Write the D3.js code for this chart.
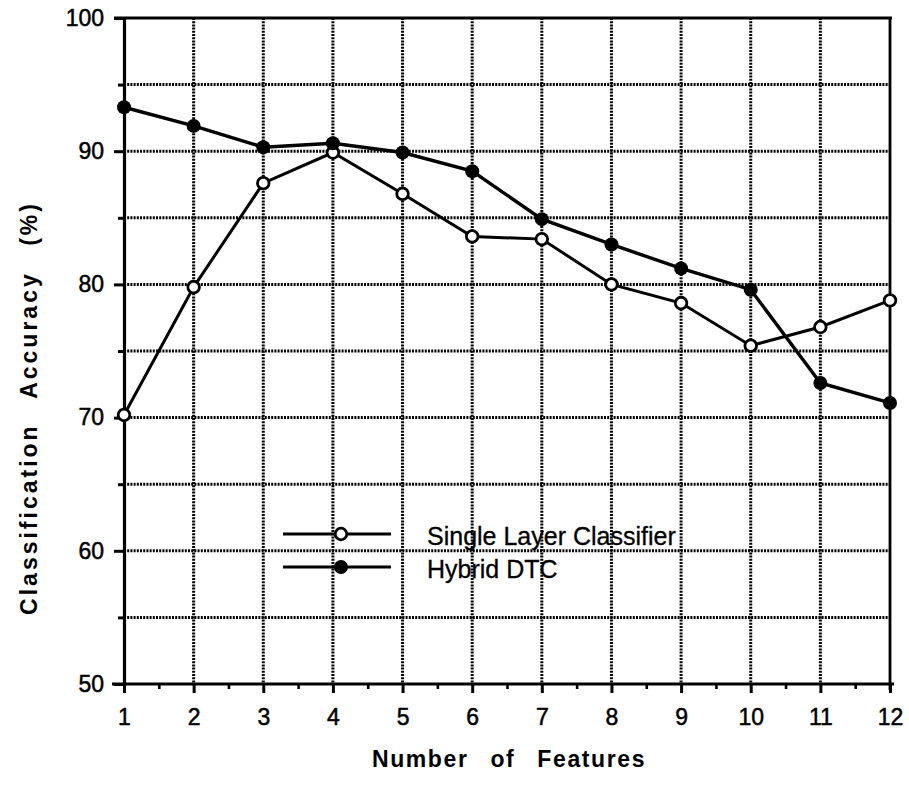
<!DOCTYPE html>
<html>
<head>
<meta charset="utf-8">
<script src="https://cdn.jsdelivr.net/npm/d3@7"></script>
<style>
  html, body { margin: 0; padding: 0; background: #fff; }
  svg { display: block; }
  text { font-family: "Liberation Sans", Arial, Helvetica, sans-serif; fill: #000; }
</style>
</head>
<body>
<svg id="chart" width="909" height="787"></svg>
<script>
// Number of features used by each classifier
const features = [1, 2, 3, 4, 5, 6, 7, 8, 9, 10, 11, 12];
// Classification accuracy (%) per feature count
const singleLayer = [70.2, 79.8, 87.6, 89.9, 86.8, 83.6, 83.4, 80.0, 78.6, 75.4, 76.8, 78.8];
const hybridDTC   = [93.3, 91.9, 90.3, 90.6, 89.9, 88.5, 84.9, 83.0, 81.2, 79.6, 72.6, 71.1];
// Axis tick values
const yTicks = [50, 60, 70, 80, 90, 100];
const yGrid = [55, 60, 65, 70, 75, 80, 85, 90, 95];
const xMinor = [1.5, 2.5, 3.5, 4.5, 5.5, 6.5, 7.5, 8.5, 9.5, 10.5, 11.5];
const seriesNames = ["Single Layer Classifier", "Hybrid DTC"];

const svg = d3.select("#chart");
const plotL = 124, plotR = 890, plotT = 18, plotB = 684;

const x = d3.scaleLinear().domain([1, 12]).range([plotL, plotR]);
const y = d3.scaleLinear().domain([50, 100]).range([plotB, plotT]);

// grid
const grid = svg.append("g").attr("stroke", "#000").attr("stroke-width", 3)
  .attr("stroke-dasharray", "2,1.2").attr("fill", "none");
grid.selectAll("line.v").data(features.slice(1, -1)).join("line").attr("class", "v")
  .attr("x1", d => x(d)).attr("x2", d => x(d)).attr("y1", plotT).attr("y2", plotB);
grid.selectAll("line.h").data(yGrid).join("line").attr("class", "h")
  .attr("x1", plotL).attr("x2", plotR).attr("y1", d => y(d)).attr("y2", d => y(d));

// frame: top and right borders
svg.append("line").attr("x1", plotL - 10).attr("x2", plotR + 2).attr("y1", y(100)).attr("y2", y(100))
  .attr("stroke", "#000").attr("stroke-width", 3);
svg.append("line").attr("x1", plotR).attr("x2", plotR).attr("y1", plotT).attr("y2", plotB + 6)
  .attr("stroke", "#000").attr("stroke-width", 2.8);

// y axis
const yAxis = d3.axisLeft(y).tickValues(yTicks).tickSize(10).tickPadding(10).tickFormat(d3.format("d"));
const gy = svg.append("g").attr("transform", `translate(${plotL},0)`).call(yAxis);
gy.select(".domain").attr("stroke-width", 3.2);
gy.selectAll(".tick line").attr("stroke-width", 3);
gy.selectAll(".tick text").attr("font-size", 23).attr("font-family", "Liberation Sans, Arial, sans-serif")
  .attr("stroke", "#000").attr("stroke-width", 0.5);
const yMinor = d3.axisLeft(y).tickValues(yGrid.filter(v => v % 10 !== 0)).tickSize(6).tickFormat("");
const gym = svg.append("g").attr("transform", `translate(${plotL},0)`).call(yMinor);
gym.select(".domain").remove();
gym.selectAll(".tick line").attr("stroke-width", 3);

// x axis
const xAxis = d3.axisBottom(x).tickValues(features).tickSize(9).tickPadding(16).tickFormat(d3.format("d"));
const gx = svg.append("g").attr("transform", `translate(0,${plotB})`).call(xAxis);
gx.select(".domain").attr("stroke-width", 3.2).attr("d", `M${plotL - 12},0H${plotR + 4}`);
gx.selectAll(".tick line").attr("stroke-width", 3);
gx.selectAll(".tick text").attr("font-size", 23).attr("font-family", "Liberation Sans, Arial, sans-serif")
  .attr("stroke", "#000").attr("stroke-width", 0.5);
const xMin = d3.axisBottom(x).tickValues(xMinor).tickSize(5).tickFormat("");
const gxm = svg.append("g").attr("transform", `translate(0,${plotB})`).call(xMin);
gxm.select(".domain").remove();
gxm.selectAll(".tick line").attr("stroke-width", 2.6);

// series lines
const line = d3.line().x((d, i) => x(features[i])).y(d => y(d));
svg.append("path").datum(singleLayer).attr("d", line)
  .attr("fill", "none").attr("stroke", "#000").attr("stroke-width", 3);
svg.append("path").datum(hybridDTC).attr("d", line)
  .attr("fill", "none").attr("stroke", "#000").attr("stroke-width", 3.4);

// markers
svg.append("g").selectAll("circle").data(singleLayer).join("circle")
  .attr("cx", (d, i) => x(features[i])).attr("cy", d => y(d)).attr("r", 5.8)
  .attr("fill", "#fff").attr("stroke", "#000").attr("stroke-width", 2.8);
svg.append("g").selectAll("circle").data(hybridDTC).join("circle")
  .attr("cx", (d, i) => x(features[i])).attr("cy", d => y(d)).attr("r", 7)
  .attr("fill", "#000");

// legend
const legend = svg.append("g");
const rows = [{ name: seriesNames[0], filled: false, yy: 534 }, { name: seriesNames[1], filled: true, yy: 567 }];
rows.forEach(r => {
  legend.append("line").attr("x1", 283).attr("x2", 391).attr("y1", r.yy).attr("y2", r.yy)
    .attr("stroke", "#000").attr("stroke-width", 3);
  legend.append("circle").attr("cx", 341).attr("cy", r.yy).attr("r", r.filled ? 7 : 5.8)
    .attr("fill", r.filled ? "#000" : "#fff").attr("stroke", "#000").attr("stroke-width", r.filled ? 0 : 2.8);
  legend.append("text").attr("x", 427).attr("y", r.yy + 11).attr("font-size", 25)
    .attr("stroke", "#000").attr("stroke-width", 0.3).text(r.name);
});

// axis titles
svg.append("text").attr("x", (plotL + plotR) / 2 + 2).attr("y", 767).attr("text-anchor", "middle")
  .attr("font-size", 23).attr("font-weight", "bold").attr("letter-spacing", 1.6).attr("word-spacing", 14)
  .text("Number of Features");
svg.append("text").attr("transform", "translate(37,408) rotate(-90)").attr("text-anchor", "middle")
  .attr("font-size", 23).attr("font-weight", "bold").attr("letter-spacing", 3).attr("word-spacing", 16)
  .text("Classification Accuracy (%)");
</script>
</body>
</html>
